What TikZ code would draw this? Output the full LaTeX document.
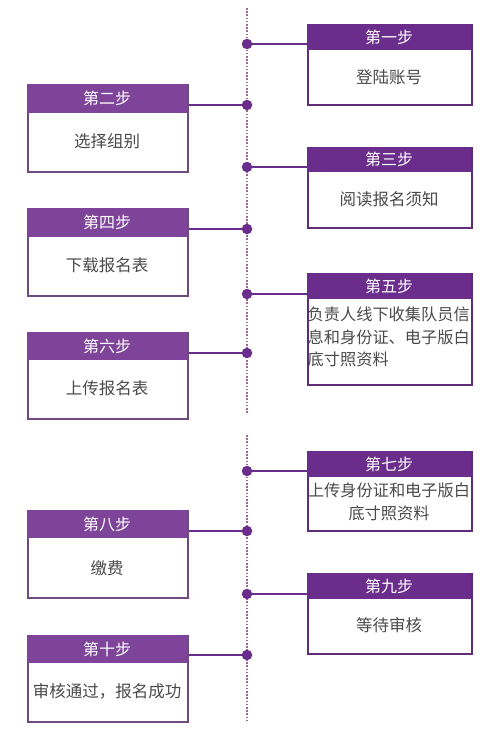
\documentclass[tikz,border=0pt]{standalone}
\usepackage{fontspec}
\setmainfont{Noto Sans CJK SC}
\definecolor{hdrR}{HTML}{6B2D8C}
\definecolor{hdrL}{HTML}{7E449A}
\definecolor{bordR}{HTML}{5E2C78}
\definecolor{bordL}{HTML}{6E4A80}
\definecolor{txt}{HTML}{4A4A4A}
\definecolor{axis}{HTML}{9C6A90}
\begin{document}
\begin{tikzpicture}[x=1pt,y=-1pt,
  boxR/.style={draw=bordR,line width=1.6pt,fill=white,minimum width=164pt,anchor=north west,inner sep=0pt},
  boxL/.style={draw=bordL,line width=1.6pt,fill=white,minimum width=160pt,anchor=north west,inner sep=0pt},
  hdR/.style={fill=hdrR,text=white,minimum width=164pt,anchor=north west,inner sep=0pt,font=\fontsize{16}{18}\selectfont},
  hdL/.style={fill=hdrL,text=white,minimum width=160pt,anchor=north west,inner sep=0pt,font=\fontsize{16}{18}\selectfont},
  body/.style={text=txt,inner sep=0pt,font=\fontsize{16.5}{22}\selectfont},
  bodys/.style={text=txt,inner sep=0pt,font=\fontsize{16.2}{22.5}\selectfont},
  dotn/.style={circle,fill=hdrR,inner sep=0pt,minimum size=10.5pt},
  conn/.style={draw=hdrR,line width=1.9pt},
  axisline/.style={draw=axis,line width=1.6pt,dash pattern=on 1.6pt off 1.6pt}]
\useasboundingbox (0,0) rectangle (496,730);
% axis
\coordinate (a1) at (247,8);
\coordinate (a2) at (247,413);
\coordinate (a3) at (247,435);
\coordinate (a4) at (247,720);
\draw[axisline] (a1) -- (a2);
\draw[axisline] (a3) -- (a4);
% boxes right
\node[boxR,minimum height=80pt] (b1) at (307,24) {};
\node[hdR,minimum height=26pt] (h1) at (307,24) {第一步};
\node[body] (t1) at (389,77) {登陆账号};
\node[boxR,minimum height=80pt] (b3) at (307,147) {};
\node[hdR,minimum height=25pt] (h3) at (307,147) {第三步};
\node[body] (t3) at (389,199) {阅读报名须知};
\node[boxR,minimum height=111pt] (b5) at (307,273) {};
\node[hdR,minimum height=26pt] (h5) at (307,273) {第五步};
\node[bodys,align=left,anchor=north west] (t5) at (307.5,307) {负责人线下收集队员信\\息和身份证、电子版白\\底寸照资料};
\node[boxR,minimum height=79pt] (b7) at (307,451) {};
\node[hdR,minimum height=26pt] (h7) at (307,451) {第七步};
\node[bodys,align=center] (t7) at (389,502) {上传身份证和电子版白\\底寸照资料};
\node[boxR,minimum height=80pt] (b9) at (307,573) {};
\node[hdR,minimum height=26pt] (h9) at (307,573) {第九步};
\node[body] (t9) at (389,625) {等待审核};
% boxes left
\node[boxL,minimum height=87pt] (b2) at (27,84) {};
\node[hdL,minimum height=29pt] (h2) at (27,84) {第二步};
\node[body] (t2) at (107,141) {选择组别};
\node[boxL,minimum height=87pt] (b4) at (27,208) {};
\node[hdL,minimum height=29pt] (h4) at (27,208) {第四步};
\node[body] (t4) at (107,265) {下载报名表};
\node[boxL,minimum height=86pt] (b6) at (27,332) {};
\node[hdL,minimum height=28pt] (h6) at (27,332) {第六步};
\node[body] (t6) at (107,388) {上传报名表};
\node[boxL,minimum height=87pt] (b8) at (27,510) {};
\node[hdL,minimum height=28pt] (h8) at (27,510) {第八步};
\node[body] (t8) at (107,568) {缴费};
\node[boxL,minimum height=86pt] (b10) at (27,635) {};
\node[hdL,minimum height=28pt] (h10) at (27,635) {第十步};
\node[body] (t10) at (107,691) {审核通过，报名成功};
% dots
\node[dotn] (d1) at (247,44) {};
\node[dotn] (d2) at (247,105) {};
\node[dotn] (d3) at (247,167) {};
\node[dotn] (d4) at (247,229) {};
\node[dotn] (d5) at (247,294) {};
\node[dotn] (d6) at (247,353) {};
\node[dotn] (d7) at (247,471) {};
\node[dotn] (d8) at (247,531) {};
\node[dotn] (d9) at (247,594) {};
\node[dotn] (d10) at (247,655) {};
% connectors
\draw[conn] (d1) -- (b1.west |- d1);
\draw[conn] (d3) -- (b3.west |- d3);
\draw[conn] (d5) -- (b5.west |- d5);
\draw[conn] (d7) -- (b7.west |- d7);
\draw[conn] (d9) -- (b9.west |- d9);
\draw[conn] (d2) -- (b2.east |- d2);
\draw[conn] (d4) -- (b4.east |- d4);
\draw[conn] (d6) -- (b6.east |- d6);
\draw[conn] (d8) -- (b8.east |- d8);
\draw[conn] (d10) -- (b10.east |- d10);
\end{tikzpicture}
\end{document}
